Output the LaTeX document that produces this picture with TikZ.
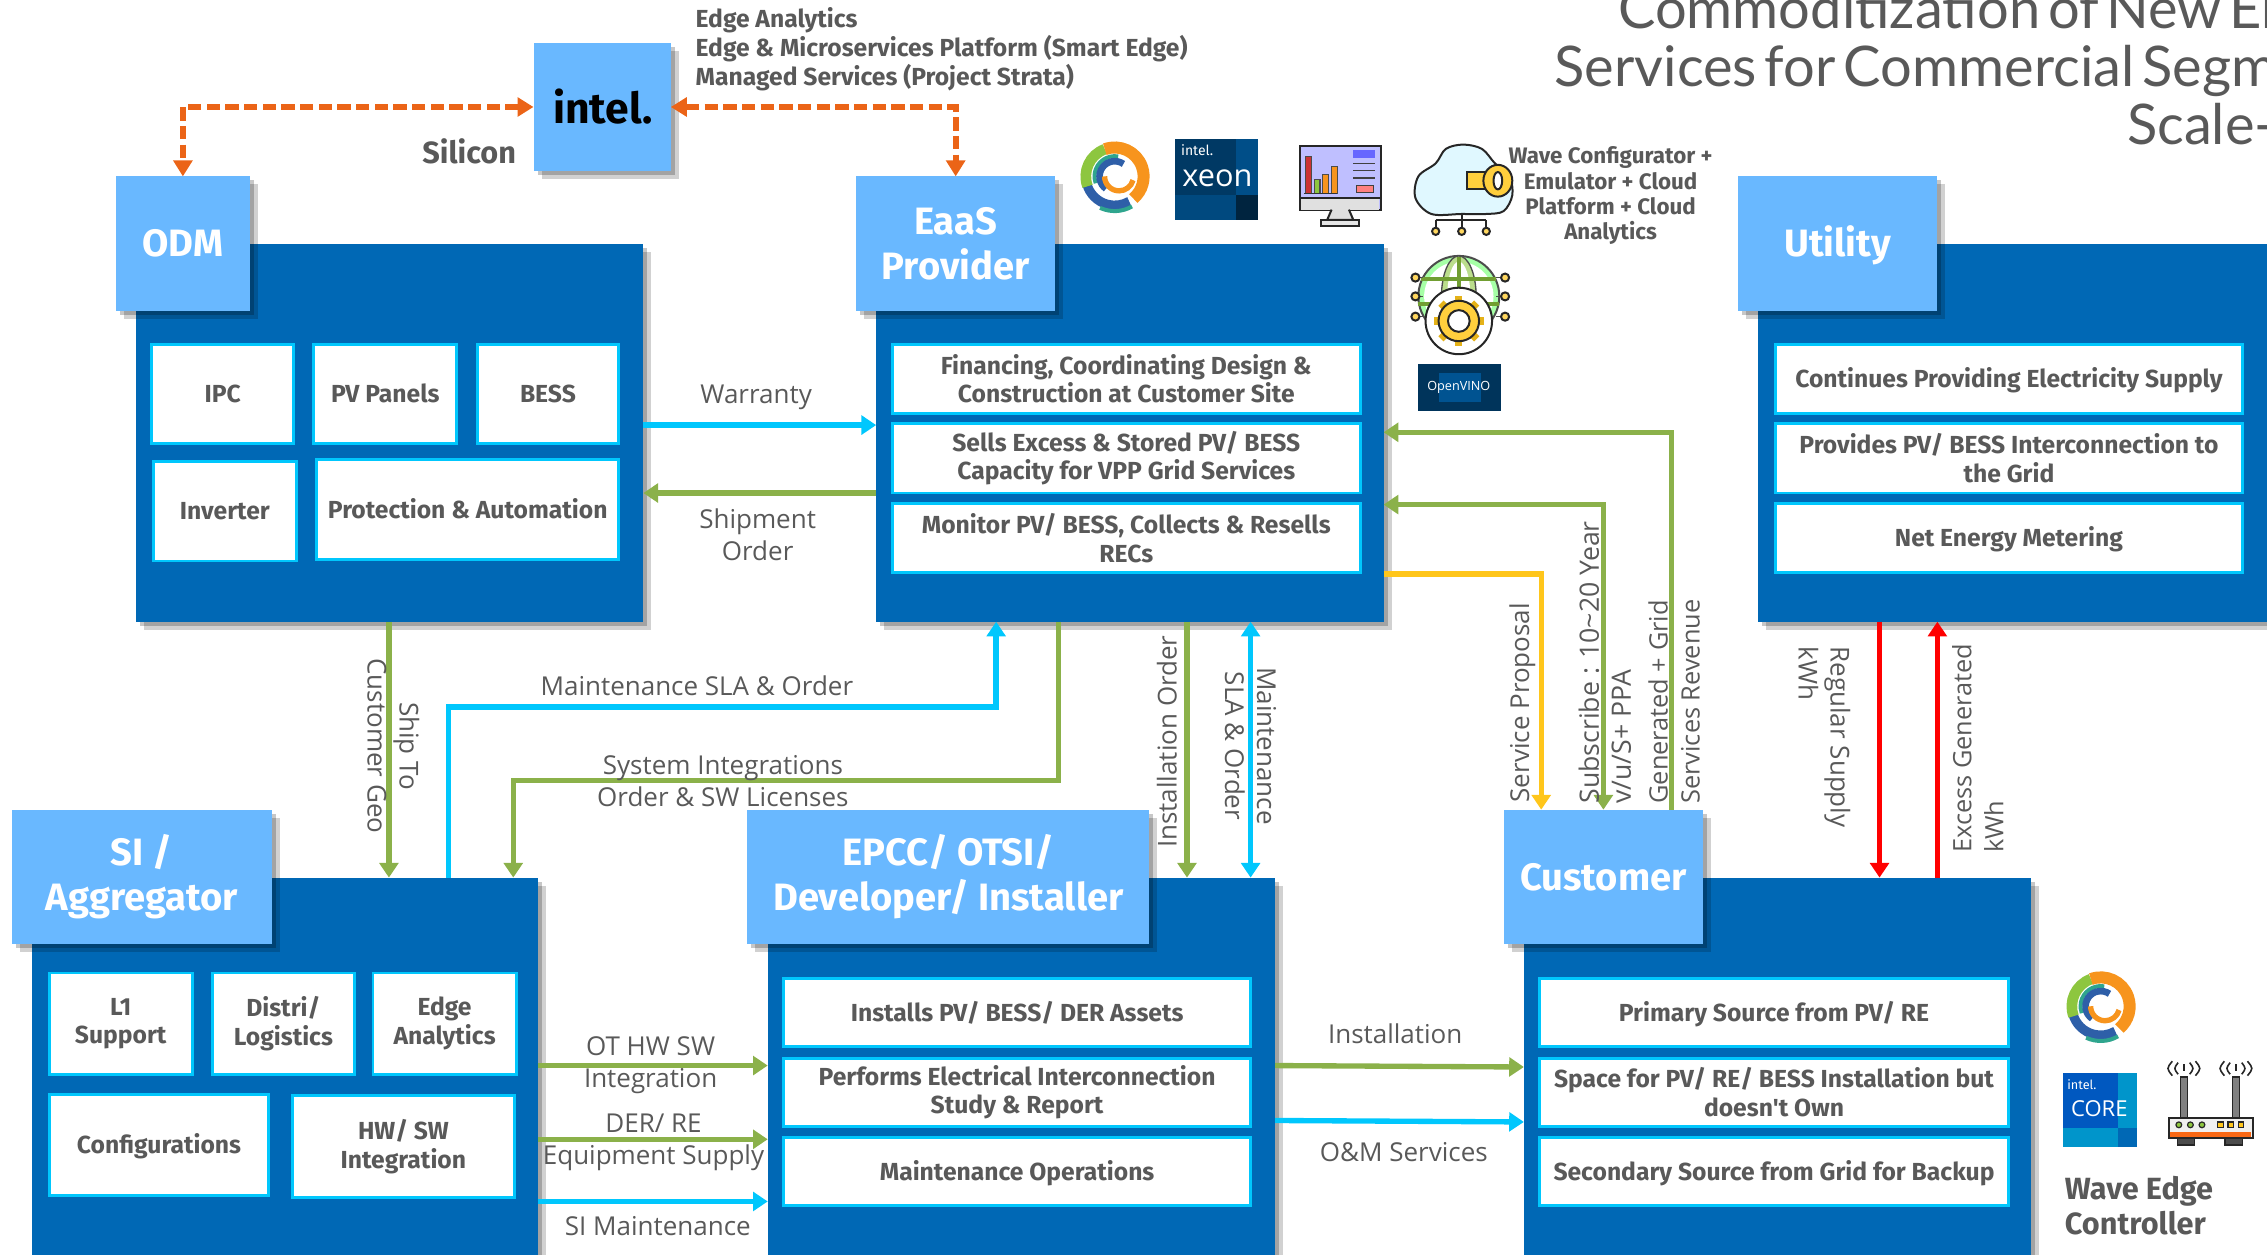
\documentclass[tikz,border=0pt]{standalone}
\usepackage{fontspec}
\setmainfont{Open Sans}
\newfontfamily\clr{Fira Sans}
\newfontfamily\ttl{Lato}
\usetikzlibrary{arrows.meta,shadows,calc}
\definecolor{pan}{HTML}{0068B5}
\definecolor{hdr}{HTML}{69B8FF}
\definecolor{cy}{HTML}{00C7FD}
\definecolor{grn}{HTML}{8BB14A}
\definecolor{org}{HTML}{EB6417}
\definecolor{yel}{HTML}{FFC61B}
\definecolor{gtx}{HTML}{595959}
\definecolor{swO}{HTML}{F7941D}
\definecolor{swG}{HTML}{8DC63F}
\definecolor{swT}{HTML}{2FA58E}
\definecolor{swB}{HTML}{2E5FA8}
\tikzset{
 softsh/.style={drop shadow={shadow xshift=3pt,shadow yshift=-3pt,opacity=.22,fill=black},
                drop shadow={shadow xshift=6pt,shadow yshift=-6pt,opacity=.18,fill=black}},
 vbal/.style={execute at begin node={\rule{0pt}{.95em}},execute at end node={\rule[-.25em]{0pt}{.25em}}},
 nudi/.style={execute at begin node={\rule{0pt}{.96em}}},
 nudh/.style={execute at begin node={\rule{0pt}{.87em}}},
 panel/.style={fill=pan,inner sep=0pt,outer sep=0pt,softsh},
 header/.style={fill=hdr,inner sep=0pt,outer sep=0pt,softsh,text=white,align=center,font=\clr\bfseries\fontsize{28.6}{33.5}\selectfont},
 inbox/.style={fill=white,draw=cy,line width=2.2pt,inner sep=0pt,outer sep=0pt,text=gtx,align=center,font=\clr\bfseries\fontsize{18.5}{21.5}\selectfont},
 lab/.style={text=gtx,align=center,inner sep=0pt,font=\fontsize{19.5}{24}\selectfont},
 rlab/.style={text=gtx,align=center,inner sep=0pt,font=\fontsize{19.5}{24}\selectfont},
 rlabs/.style={text=gtx,align=left,inner sep=0pt,font=\fontsize{19}{24}\selectfont},
 blab/.style={text=gtx,inner sep=0pt,font=\clr\bfseries\fontsize{18.5}{21.5}\selectfont},
 conn/.style={line width=4pt,-{Triangle[length=11pt,width=14pt]}},
 connb/.style={line width=4pt,{Triangle[length=11pt,width=14pt]}-{Triangle[length=11pt,width=14pt]}},
 dsh/.style={line width=4.4pt,draw=org,dash pattern=on 10pt off 4pt,{Triangle[length=12pt,width=14pt]}-{Triangle[length=12pt,width=14pt]}},
 ico/.style={line width=1.5pt,draw=black!85},
 titl/.style={anchor=base west,inner sep=0pt,text=gtx,font=\ttl\fontsize{42}{46}\selectfont},
}
\newcommand{\bx}[7]{%
 \pgfmathsetmacro{\cxx}{(#2+#4)/2}\pgfmathsetmacro{\cyy}{(#3+#5)/2}%
 \pgfmathsetmacro{\ww}{(#4-#2)*1.08435}\pgfmathsetmacro{\hh}{(#5-#3)*1.08435}%
 \node[#6,minimum width=\ww pt,minimum height=\hh pt] (#1) at (\cxx,\cyy) {#7};}
\newcommand{\swirl}[2]{%
 \begin{scope}[shift={(#1,#2)},x=1.08435pt,y=1.08435pt]
  \draw[swB,line width=7pt] (195:20) arc (195:300:20);
  \draw[swT,line width=3pt] (300:24) arc (300:245:24);
  \draw[swG,line width=8pt] (110:20) arc (110:200:20);
  \draw[swO,line width=9pt] (110:20) arc (110:-50:20);
  \draw[swT,line width=3pt] (80:14) arc (80:200:14);
  \draw[swB,line width=5pt] (55:10.5) arc (55:235:10.5);
  \draw[swO,line width=4pt] (180:7) arc (180:345:10);
 \end{scope}}
\begin{document}
\begin{tikzpicture}[x=1.08435pt,y=-1.08435pt]
\useasboundingbox (0,0) rectangle (1568,868);
\clip (0,0) rectangle (1568,868);
% panels
\bx{odmp}{94}{169}{445}{430}{panel}{}
\bx{eaasp}{606}{169}{957}{430}{panel}{}
\bx{utilp}{1216}{169}{1590}{430}{panel}{}
\bx{sip}{22}{607}{372}{890}{panel}{}
\bx{epccp}{531}{607}{882}{890}{panel}{}
\bx{custp}{1054}{607}{1405}{890}{panel}{}
% headers
\bx{intel}{369}{30}{464}{118}{header}{}
\node[font=\clr\bfseries\fontsize{32}{36}\selectfont,text=black,inner sep=0pt] (intellogo) at (417,74) {intel.};
\bx{odmh}{80}{122}{173}{215}{header,vbal}{ODM}
\bx{eaash}{592}{122}{730}{215}{header}{EaaS\\Provider}
\bx{utilh}{1202}{122}{1340}{215}{header,vbal}{Utility}
\bx{sih}{8}{560}{188}{653}{header,nudh}{SI /\\Aggregator}
\bx{epcch}{517}{560}{795}{653}{header,nudh}{EPCC/ OTSI/\\Developer/ Installer}
\bx{custh}{1040}{560}{1178}{653}{header,vbal}{Customer}
% inner boxes
\bx{ipc}{105}{238}{203}{307}{inbox,vbal}{IPC}
\bx{pv}{217}{238}{316}{307}{inbox,vbal}{PV Panels}
\bx{bess}{330}{238}{428}{307}{inbox,vbal}{BESS}
\bx{inv}{106}{319}{205}{388}{inbox,vbal}{Inverter}
\bx{prot}{219}{318}{428}{387}{inbox,vbal}{Protection \& Automation}
\bx{ea}{617}{238}{941}{286}{inbox}{Financing, Coordinating Design \&\\Construction at Customer Site}
\bx{eb}{617}{293}{941}{341}{inbox}{Sells Excess \& Stored PV/ BESS\\Capacity for VPP Grid Services}
\bx{ec}{617}{348}{941}{396}{inbox}{Monitor PV/ BESS, Collects \& Resells\\RECs}
\bx{ua}{1228}{238}{1551}{286}{inbox,vbal}{Continues Providing Electricity Supply}
\bx{ub}{1228}{293}{1551}{341}{inbox}{Provides PV/ BESS Interconnection to\\the Grid}
\bx{uc}{1228}{348}{1551}{396}{inbox,vbal}{Net Energy Metering}
\bx{sa}{34}{673}{133}{743}{inbox,nudi}{L1\\Support}
\bx{sb}{147}{673}{245}{743}{inbox,nudi}{Distri/\\Logistics}
\bx{sc}{258}{673}{357}{743}{inbox,nudi}{Edge\\Analytics}
\bx{sd}{34}{757}{186}{827}{inbox,vbal}{Configurations}
\bx{se}{202}{758}{356}{828}{inbox,nudi}{HW/ SW\\Integration}
\bx{pa}{542}{677}{865}{724}{inbox,vbal}{Installs PV/ BESS/ DER Assets}
\bx{pb}{542}{732}{865}{779}{inbox}{Performs Electrical Interconnection\\Study \& Report}
\bx{pc}{542}{787}{865}{834}{inbox,vbal}{Maintenance Operations}
\bx{ca}{1065}{677}{1389}{724}{inbox,vbal}{Primary Source from PV/ RE}
\bx{cb}{1065}{732}{1389}{779}{inbox}{Space for PV/ RE/ BESS Installation but\\doesn't Own}
\bx{cc}{1065}{787}{1389}{834}{inbox,vbal}{Secondary Source from Grid for Backup}
% connectors
\draw[dsh] (intel.west) -| (odmh.north);
\draw[dsh] (intel.east) -| (eaash.north);
\draw[conn,color=cy] (odmp.east |- 0,294) -- (eaasp.west |- 0,294);
\draw[conn,color=grn] (eaasp.west |- 0,341) -- (odmp.east |- 0,341);
\draw[conn,color=grn] (odmp.south -| 269,0) -- (sip.north -| 269,0);
\draw[conn,color=cy] (sip.north -| 310,0) -- (310,489) -- (689,489) -- (eaasp.south -| 689,0);
\draw[conn,color=grn] (eaasp.south -| 732,0) -- (732,540) -- (355,540) -- (sip.north -| 355,0);
\draw[conn,color=grn] (eaasp.south -| 821,0) -- (epccp.north -| 821,0);
\draw[connb,color=cy] (eaasp.south -| 865,0) -- (epccp.north -| 865,0);
\draw[conn,color=grn] (custh.north -| 1156,0) -- (1156,299) -- (eaasp.east |- 0,299);
\draw[connb,color=grn] (eaasp.east |- 0,349) -| (custh.north);
\draw[conn,color=yel] (eaasp.east |- 0,397) -- (1066,397) -- (custh.north -| 1066,0);
\draw[conn,color=red] (utilp.south -| 1300,0) -- (custp.north -| 1300,0);
\draw[conn,color=red] (custp.north -| 1340,0) -- (utilp.south -| 1340,0);
\draw[conn,color=grn] (sip.east |- 0,737) -- (epccp.west |- 0,737);
\draw[conn,color=grn] (sip.east |- 0,788) -- (epccp.west |- 0,788);
\draw[conn,color=cy] (sip.east |- 0,831) -- (epccp.west |- 0,831);
\draw[conn,color=grn] (epccp.east |- 0,737) -- (custp.west |- 0,738);
\draw[conn,color=cy] (epccp.east |- 0,775) -- (custp.west |- 0,776);
% labels
\node[lab] (l1) at (523,275) {Warranty};
\node[lab] (l2) at (524,370) {Shipment\\Order};
\node[lab] (l3) at (482,474) {Maintenance SLA \& Order};
\node[lab] (l4) at (500,540) {System Integrations\\Order \& SW Licenses};
\node[lab] (l5) at (450,737) {OT HW SW\\Integration};
\node[lab] (l6) at (452,790) {DER/ RE\\Equipment Supply};
\node[lab] (l7) at (455,848) {SI Maintenance};
\node[lab] (l8) at (965,715) {Installation};
\node[lab] (l9) at (971,797) {O\&M Services};
\node[rlab,rotate=-90] (l10) at (272,516) {Ship To\\Customer Geo};
\node[rlab,rotate=90] (l11) at (807,513) {Installation Order};
\node[rlab,rotate=-90] (l12) at (865,516) {Maintenance\\SLA \& Order};
\node[rlab,rotate=90] (l13) at (1053,486) {Service Proposal};
\node[rlab,rotate=90,anchor=west,align=left,font=\fontsize{20}{24}\selectfont] (l14) at (1110,556) {Subscribe : 10\textasciitilde20 Year\\v/u/S+ PPA};
\node[rlabs,rotate=90,anchor=west] (l15) at (1158,556) {Generated + Grid\\Services Revenue};
\node[rlab,rotate=-90,anchor=west,align=left] (l16) at (1262,447) {Regular Supply\\kWh};
\node[rlabs,rotate=90,anchor=west] (l17) at (1368,590) {Excess Generated\\kWh};
\node[blab,anchor=west,align=left] (t1) at (481,34) {Edge Analytics\\Edge \& Microservices Platform (Smart Edge)\\Managed Services (Project Strata)};
\node[blab,font=\clr\bfseries\fontsize{23}{26}\selectfont] (t2) at (324.5,105) {Silicon};
\node[blab,align=center,font=\clr\bfseries\fontsize{16.8}{19}\selectfont] (t3) at (1114,135.5) {Wave Configurator +\\Emulator + Cloud\\Platform + Cloud\\Analytics};
\node[blab,anchor=west,align=left,font=\clr\bfseries\fontsize{23}{26}\selectfont] (t4) at (1428,834) {Wave Edge\\Controller};
% title
\node[titl] (tt1) at (1119,20) {\spaceskip=.14em Commoditization of New En};
\node[titl] (tt2) at (1075,60) {\spaceskip=.14em Services for Commercial Segm};
\node[titl] (tt3) at (1471,100) {Scale-};
% logos
\swirl{771}{122}
\swirl{1453}{696}
% xeon badge
\fill[fill=pan!55!black] (813,96) rectangle (870,152);
\fill[pan!75!black] (855,96) rectangle (870,135);
\fill[pan!70!black] (813,135) rectangle (855,152);
\fill[pan!35!black] (855,135) rectangle (870,152);
\node[text=white,inner sep=0pt,font=\clr\fontsize{10.5}{11}\selectfont] (xi) at (828,104) {intel.};
\node[text=white,inner sep=0pt,font=\fontsize{23}{24}\selectfont] (xx) at (842,123) {xeon};
% core badge
\fill[pan!85!blue] (1427,742) rectangle (1478,793);
\fill[pan!70!cyan] (1427,780) rectangle (1478,793);
\fill[pan!70!cyan] (1465,742) rectangle (1478,780);
\fill[pan] (1465,780) rectangle (1478,793);
\node[text=white,inner sep=0pt,font=\clr\fontsize{9.5}{10}\selectfont] (ci) at (1440,750) {intel.};
\node[text=white,inner sep=0pt,font=\fontsize{16.5}{17}\selectfont] (cc2) at (1452,767) {CORE};
% openvino badge
\fill[pan!50!black] (981,252) rectangle (1038,284);
\fill[pan!80!black] (995,258) rectangle (1024,278);
\node[text=white,inner sep=0pt,font=\fontsize{9.5}{10}\selectfont] (ov) at (1009,268) {OpenVINO};
% monitor icon
\draw[ico,fill=blue!25!white] (899,101) rectangle (955,145);
\fill[black!12] (900,137) rectangle (954,145);
\draw[ico] (899,137) -- (955,137);
\foreach \xa/\ya/\cc in {903/108/red!60!gray,909/124/swG,915/121/swO,921/115/swO}{\draw[black!70,fill=\cc,line width=.8pt] (\xa,\ya) rectangle (\xa+4,134);}
\draw[black!80,line width=1pt] (902,134) -- (925,134);
\fill[blue!60] (936,104) rectangle (951,109);
\draw[black!75,line width=1.2pt] (936,113) -- (951,113) (936,118) -- (951,118) (936,123) -- (951,123);
\draw[black!75,fill=red!50,line width=.8pt] (938,128) rectangle (950,133);
\draw[ico,fill=black!12] (921,145) -- (918,152) -- (936,152) -- (933,145);
\draw[ico,fill=black!10] (914,152) rectangle (940,156);
% cloud icon
\draw[ico,fill=cy!12!white] plot[smooth cycle,tension=.55] coordinates {(990,148) (979,137) (981,122) (993,113) (1000,103) (1012,100) (1025,103) (1034,113) (1044,122) (1046,135) (1040,146) (1028,148) (1011,148)};
\draw[ico,fill=yel!85] (1015,119) rectangle (1030,131);
\draw[ico,fill=yel!85] (1036,125) ellipse (10 and 11);
\draw[ico,fill=white] (1036,125) ellipse (3 and 6);
\draw[ico] (1011,148) -- (1011,152) (993,152) -- (1028,152) (993,152) -- (993,158) (1028,152) -- (1028,158) (1011,152) -- (1011,158);
\foreach \xa in {993,1011,1028}{\draw[ico,fill=yel!70] (\xa,160) circle (2.5);}
% globe icon
\draw[ico,draw=black!70,fill=green!35!white] (1009,205) circle (28);
\fill[white] (1009,205) circle (24);
\draw[black!70,fill=swG!60,line width=1pt] (1009,205) ellipse (12 and 28);
\fill[white] (1009,205) ellipse (8 and 24);
\draw[swG!80!black,line width=3pt] (1009,178) -- (1009,205) (983,193) -- (1035,193) (981,210) -- (1037,210);
\foreach \ya in {192,205,219}{
 \draw[black!70,line width=1.2pt] (981,\ya) -- (984,\ya) (1038,\ya) -- (1035,\ya);
 \draw[ico,fill=yel!70] (979,\ya) circle (2.8);
 \draw[ico,fill=yel!70] (1041,\ya) circle (2.8);}
\draw[ico,fill=white] (1009,222) circle (23);
\foreach \an in {0,45,...,315}{\draw[yel!90!black,line width=5.5pt] (1009,222) -- ++(\an:17.5);}
\draw[ico,fill=yel!85] (1009,222) circle (14);
\draw[ico,fill=white] (1009,222) circle (7.5);
% router icon
\draw[ico,fill=black!50,line width=1pt] (1508,745) rectangle (1513,773);
\draw[ico,fill=black!50,line width=1pt] (1544,745) rectangle (1549,773);
\foreach \xa in {1510.5,1546.5}{
 \draw[black!85,line width=1.2pt] (\xa-4,735) .. controls (\xa-7,739) .. (\xa-4,743);
 \draw[black!85,line width=1.2pt] (\xa+4,735) .. controls (\xa+7,739) .. (\xa+4,743);
 \draw[black!85,line width=1.2pt] (\xa-8,734) .. controls (\xa-12,739) .. (\xa-8,744);
 \draw[black!85,line width=1.2pt] (\xa+8,734) .. controls (\xa+12,739) .. (\xa+8,744);
 \draw[black!85,line width=1.2pt] (\xa,736) -- (\xa,741);}
\draw[ico,fill=black!70,line width=1pt] (1506,787) rectangle (1518,792);
\draw[ico,fill=black!70,line width=1pt] (1539,787) rectangle (1551,792);
\draw[ico,fill=black!6] (1500,773) rectangle (1558,787);
\fill[swO!70!red] (1501,783) rectangle (1557,786.5);
\foreach \xa in {1507,1515,1523}{\draw[black!85,fill=swG,line width=.9pt] (\xa,778) circle (2);}
\foreach \xa in {1536,1543,1550}{\draw[black!85,fill=yel,line width=.9pt] (\xa-2,776) rectangle (\xa+2,780);}
\end{tikzpicture}
\end{document}
